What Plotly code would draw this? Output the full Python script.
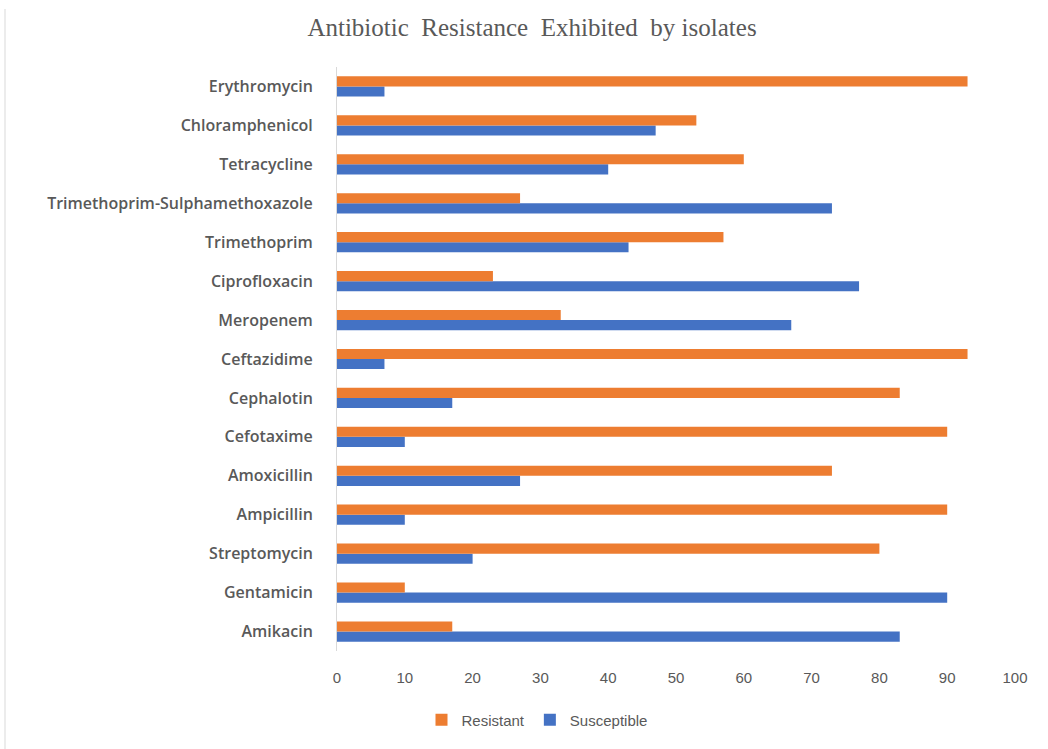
import plotly.graph_objects as go

categories = ["Amikacin", "Gentamicin", "Streptomycin", "Ampicillin", "Amoxicillin",
              "Cefotaxime", "Cephalotin", "Ceftazidime", "Meropenem", "Ciprofloxacin",
              "Trimethoprim", "Trimethoprim-Sulphamethoxazole", "Tetracycline",
              "Chloramphenicol", "Erythromycin"]
resistant = [17, 10, 80, 90, 73, 90, 83, 93, 33, 23, 57, 27, 60, 53, 93]
susceptible = [83, 90, 20, 10, 27, 10, 17, 7, 67, 77, 43, 73, 40, 47, 7]
x_ticks = [0, 10, 20, 30, 40, 50, 60, 70, 80, 90, 100]

W, H = 1048, 749
ml, mr, mt, mb = 337, 33, 67, 98
pw, ph = W - ml - mr, H - mt - mb

def px_x(p):
    return (p - ml) / pw

def px_y(p):
    return (H - mb - p) / ph

fig = go.Figure()
fig.add_trace(go.Bar(y=categories, x=susceptible, orientation="h", name="Susceptible",
                     marker=dict(color="#4472C4", line=dict(width=0))))
fig.add_trace(go.Bar(y=categories, x=resistant, orientation="h", name="Resistant",
                     marker=dict(color="#ED7D31", line=dict(width=0))))

fig.update_layout(
    width=W, height=H,
    margin=dict(l=ml, r=mr, t=mt, b=mb),
    paper_bgcolor="white", plot_bgcolor="white",
    barmode="group", bargap=0.48, bargroupgap=0,
    title=dict(text="Antibiotic  Resistance  Exhibited  by isolates",
               x=532 / W, xanchor="center", y=1 - 27 / H, yanchor="middle",
               font=dict(family="Liberation Serif", size=25, color="#595959")),
    legend=dict(orientation="h", traceorder="reversed", x=px_x(537), xanchor="center",
                y=px_y(720), yanchor="middle",
                font=dict(family="Liberation Sans Narrow, Liberation Sans", size=15, color="#595959"),
                itemwidth=30),
    xaxis=dict(range=[0, 100], tickvals=x_ticks, showgrid=False, zeroline=False,
               showline=False, ticks="", ticklabelstandoff=16,
               tickfont=dict(family="Liberation Sans Narrow, Liberation Sans", size=15, color="#595959")),
    yaxis=dict(categoryorder="array", categoryarray=categories, showgrid=False,
               showline=True, linecolor="#D9D9D9", linewidth=1, ticks="",
               ticklabelstandoff=20,
               tickfont=dict(family="Open Sans", size=16, color="#595959", weight=600)),
    shapes=[dict(type="line", xref="paper", yref="paper",
                 x0=px_x(5), x1=px_x(5), y0=px_y(9), y1=px_y(749),
                 line=dict(color="#D9D9D9", width=1))],
    showlegend=True,
)

fig.write_html("out.html")
